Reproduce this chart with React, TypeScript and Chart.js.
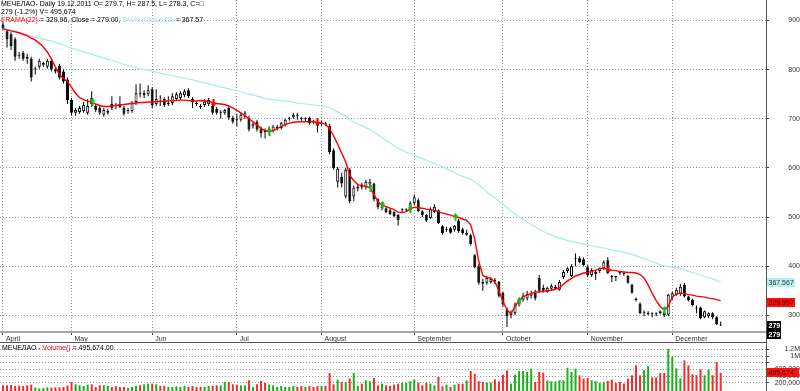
import React, { useEffect, useRef } from 'react';
import { Chart, registerables } from 'chart.js';

Chart.register(...registerables);

// ---------- data (one entry per trading day, 7 Apr 2011 .. 19 Dec 2011) ----------
const OPEN = [
  892, 878, 872, 862, 830, 834, 826, 822, 800, 806, 810, 806, 818, 800, 808, 796, 780,
  738, 712, 714, 716, 712, 742, 726, 722, 708, 712, 730, 726, 730, 722, 716, 716, 734, 752, 748, 750,
  760, 730, 736, 740, 730, 732, 740, 742, 748, 758, 740, 730, 726, 728, 730, 726, 720, 712, 712, 722, 702,
  698, 698, 704, 702, 684, 694, 680, 674, 672, 675, 681, 681, 688, 700, 703, 706, 700, 699, 702, 694, 694,
  690, 690, 686, 636, 572, 582, 542, 596, 542, 558, 566, 560, 566, 568, 536, 518, 518, 514, 510, 504, 514, 514, 514,
  528, 534, 512, 504, 498, 510, 514, 481, 474, 477, 474, 493, 475, 464, 463, 422, 400, 368, 366, 368, 372, 368,
  346, 312, 300, 304, 322, 332, 334, 340, 346, 376, 356, 348, 354, 354, 352, 378, 390, 380, 414, 416, 414,
  398, 382, 384, 390, 396, 412, 380, 378, 386, 386, 380, 362, 334, 324, 305, 302, 302, 302, 308, 306, 301,
  336, 342, 344, 362, 338, 332, 315, 316, 296, 298, 304, 296, 279.7,
];
const HIGH = [
  898, 882, 876, 866, 836, 838, 832, 826, 806, 822, 816, 822, 822, 804, 812, 800, 784,
  742, 722, 726, 734, 740, 756, 730, 726, 722, 720, 746, 732, 746, 726, 722, 736, 770, 772, 758, 768,
  764, 760, 748, 744, 746, 752, 754, 756, 760, 762, 744, 734, 730, 740, 742, 730, 724, 718, 720, 726, 706,
  710, 712, 716, 706, 694, 698, 684, 680, 684, 688, 688, 694, 700, 704, 712, 712, 704, 703, 704, 698, 698,
  696, 694, 690, 640, 602, 590, 600, 600, 564, 566, 570, 576, 578, 570, 538, 530, 520, 518, 512, 506, 518, 518, 532,
  546, 538, 514, 506, 520, 526, 516, 484, 480, 480, 484, 496, 478, 474, 466, 425, 404, 374, 380, 378, 376, 370,
  348, 316, 310, 326, 336, 346, 350, 350, 352, 382, 362, 358, 364, 362, 372, 392, 398, 404, 426, 420, 418,
  402, 396, 392, 398, 412, 418, 382, 380, 390, 388, 382, 364, 336, 326, 310, 308, 306, 306, 310, 308, 344,
  348, 356, 364, 366, 340, 334, 320, 318, 310, 306, 306, 298, 287.5,
];
const LOW = [
  880, 845, 840, 818, 822, 818, 812, 776, 790, 802, 806, 802, 796, 792, 780, 772, 730,
  706, 706, 710, 712, 708, 724, 714, 708, 704, 708, 718, 720, 722, 706, 710, 712, 728, 744, 742, 746,
  722, 726, 726, 724, 726, 728, 736, 738, 744, 742, 722, 726, 720, 724, 726, 708, 708, 700, 708, 698, 690,
  684, 694, 700, 674, 680, 674, 662, 660, 668, 672, 676, 678, 684, 696, 700, 698, 696, 695, 688, 690, 672,
  686, 686, 628, 596, 560, 560, 538, 528, 532, 552, 556, 556, 560, 532, 516, 514, 508, 504, 500, 482, 510, 510, 512,
  524, 510, 500, 490, 496, 508, 486, 464, 470, 466, 470, 468, 464, 462, 442, 396, 362, 350, 362, 364, 364, 336,
  318, 276, 294, 300, 318, 328, 330, 334, 330, 346, 346, 346, 350, 352, 350, 374, 386, 378, 400, 406, 400,
  378, 378, 372, 386, 392, 384, 368, 370, 382, 380, 364, 344, 328, 302, 298, 300, 296, 298, 302, 296, 298,
  332, 340, 340, 336, 328, 318, 304, 292, 294, 294, 292, 280, 278.3,
];
const CLOSE = [
  884, 862, 848, 826, 828, 822, 822, 784, 801, 818, 814, 818, 800, 796, 784, 776, 738,
  712, 718, 722, 728, 726, 730, 718, 712, 718, 716, 722, 726, 724, 710, 718, 732, 752, 750, 752, 758,
  728, 740, 734, 728, 732, 746, 750, 752, 756, 746, 734, 730, 724, 735, 738, 712, 712, 713, 718, 702, 694,
  697, 708, 711, 678, 690, 678, 671, 673, 680, 684, 682, 691, 698, 701, 708, 705, 700, 700, 691, 694, 686,
  692, 690, 632, 600, 598, 568, 596, 532, 560, 562, 560, 572, 572, 536, 520, 524, 510, 506, 502, 494, 515, 516, 528,
  540, 512, 504, 493, 516, 521, 488, 467, 476, 468, 482, 471, 467, 468, 445, 398, 366, 364, 376, 374, 370, 340,
  322, 298, 304, 322, 332, 340, 344, 346, 334, 350, 350, 356, 360, 358, 368, 388, 396, 400, 416, 408, 402,
  382, 392, 388, 396, 408, 386, 378, 378, 386, 384, 366, 346, 331, 304, 306, 305, 302, 302, 304, 300, 342,
  345, 352, 358, 338, 331, 321, 314, 294, 308, 304, 296, 282, 279,
];
const VOLUME = [
  120000, 120000, 130000, 100000, 110000, 100000, 120000, 140000, 50000, 30000, 40000, 60000, 50000, 60000, 60000, 70000, 110000,
  220000, 150000, 120000, 100000, 140000, 150000, 70000, 120000, 120000, 100000, 70000, 90000, 70000, 70000, 40000, 70000, 100000, 120000, 150000, 170000,
  170000, 150000, 100000, 100000, 70000, 70000, 90000, 70000, 100000, 70000, 100000, 70000, 70000, 70000, 100000, 100000, 120000, 120000, 220000, 220000, 150000,
  140000, 120000, 120000, 270000, 70000, 150000, 250000, 190000, 140000, 120000, 70000, 100000, 70000, 70000, 100000, 70000, 100000, 70000, 100000, 70000, 100000,
  100000, 100000, 490000, 150000, 290000, 220000, 220000, 320000, 490000, 100000, 170000, 270000, 240000, 340000, 120000, 170000, 120000, 100000, 140000, 170000, 200000, 200000, 240000,
  300000, 200000, 120000, 200000, 170000, 120000, 370000, 90000, 140000, 70000, 140000, 170000, 170000, 270000, 550000, 470000, 240000, 220000, 200000, 200000, 300000, 240000,
  440000, 570000, 170000, 440000, 550000, 550000, 520000, 620000, 220000, 520000, 500000, 270000, 240000, 240000, 270000, 270000, 650000, 520000, 620000, 420000, 320000,
  340000, 270000, 240000, 190000, 220000, 250000, 290000, 190000, 220000, 170000, 320000, 420000, 720000, 420000, 570000, 700000, 360000, 360000, 490000, 490000, 1220000,
  970000, 630000, 330000, 870000, 720000, 450000, 420000, 600000, 420000, 600000, 420000, 820000, 495674,
];
const FRAMA = [
  883, 881, 879, 877, 875, 872, 869, 864, 860, 854, 846, 836, 822, 805, 790, 782, 776,
  764, 752, 743, 739, 736, 734, 730, 727, 725, 725, 726, 727, 728, 729, 730, 731, 732, 733, 733, 734,
  734, 735, 735, 736, 736, 737, 737, 738, 738, 737, 736, 736, 737, 736, 735, 733, 731, 730, 729, 726, 722,
  717, 712, 706, 700, 694, 687, 680, 676, 674, 676, 680, 684, 688, 691, 693, 694, 694, 694, 694, 694, 693,
  691, 689, 680, 665, 648, 630, 612, 585, 574, 566, 564, 563, 560, 546, 531, 524, 521, 518, 515, 510, 509, 511, 516,
  520, 519, 518, 516, 515, 513, 511, 508, 506, 504, 501, 499, 496, 493, 484, 455, 410, 381, 377, 375, 368, 350,
  328, 311, 303, 318, 330, 338, 341, 344, 347, 348, 349, 350, 351, 353, 356, 363, 370, 375, 380, 383, 386,
  387, 389, 392, 395, 396, 394, 392, 391, 389, 388, 387, 387, 386, 383, 376, 362, 345, 330, 318, 311, 318,
  338, 343, 345, 344, 342, 341, 339, 338, 337, 335, 334, 332, 329.957,
];
const EMA62 = [
  884, 882, 880, 878, 875, 873, 871, 869, 866, 864, 862, 860, 858, 856, 853, 850, 847,
  844, 841, 839, 836, 834, 831, 829, 826, 824, 821, 819, 816, 814, 811, 809, 806, 804, 802, 800, 799,
  797, 795, 793, 791, 789, 788, 786, 784, 783, 781, 779, 777, 775, 773, 771, 769, 767, 765, 763, 761, 759,
  757, 755, 753, 750, 748, 746, 744, 741, 740, 739, 738, 737, 736, 735, 734, 732, 731, 730, 729, 728, 727,
  726, 725, 722, 718, 714, 709, 705, 699, 694, 690, 686, 682, 678, 673, 667, 662, 656, 651, 645, 640, 636, 632, 629,
  626, 622, 619, 615, 612, 609, 606, 602, 598, 594, 590, 586, 583, 580, 577, 571, 565, 558, 551, 545, 539, 532,
  526, 519, 512, 506, 500, 495, 490, 485, 480, 475, 471, 467, 464, 460, 457, 455, 452, 450, 449, 447, 445,
  443, 442, 440, 438, 437, 435, 433, 431, 430, 428, 426, 424, 421, 418, 415, 412, 409, 406, 403, 401, 399,
  398, 397, 395, 393, 390, 387, 385, 382, 379, 377, 374, 371, 367.567,
];
const MONTH_START = [0, 17, 37, 58, 79, 102, 124, 145, 166];
const MONTH_LABELS = ['April', 'May', 'Jun', 'Jul', 'August', 'September', 'October', 'November', 'December'];
const BUY_SIGNALS = [22, 66, 91, 94, 101, 112, 128, 164];
const SELL_SIGNALS = [52, 78, 150];
const PRICE_TICKS = [300, 400, 500, 600, 700, 800, 900];
const VOLUME_TICKS = [200000, 400000, 600000, 800000, 1000000, 1200000];
const VOLUME_TICK_LABELS = ['200,000', '400,000', '600,000', '', '1M', '1.2M'];
const HEADER_1 = 'МЕЧЕЛАО- Daily 19.12.2011 O= 279.7, H= 287.5, L= 278.3, C=□';
const HEADER_2 = '279 (-1.2%) V= 495,674';

// ---------- layout / style constants ----------
const X_MIN = -0.744;
const X_MAX = 189.24;
const PRICE_MIN = 266;
const PRICE_MAX = 941.7;
const VOL_MIN = -51000;
const VOL_MAX = 1392500;
const FAMILY = '"Liberation Sans", Arial, sans-serif';
const FS = 7;
const AXIS_W = 34;
const GRID = '#9a9a9a';
const LABEL = '#333333';
const EMA_COLOR = '#a8eaea';
const FRAMA_COLOR = '#ff0000';
const UP_VOL = '#19b019';
const DOWN_VOL = '#f52a2a';

const last = CLOSE.length - 1;
const idx = CLOSE.map((_, i) => i);

function drawSegments(ctx: CanvasRenderingContext2D, x: number, y: number, segs: [string, string][]) {
  let cx = x;
  for (const [t, c] of segs) {
    ctx.fillStyle = c;
    ctx.fillText(t, cx, y);
    cx += ctx.measureText(t).width;
  }
}

function valueBox(ctx: CanvasRenderingContext2D, text: string, cy: number, x: number, w: number, bg: string, fg: string) {
  const top = Math.round(cy - 4.5);
  ctx.fillStyle = bg;
  ctx.fillRect(x, top, w, 9);
  ctx.fillStyle = fg;
  ctx.textAlign = 'left';
  ctx.textBaseline = 'middle';
  ctx.fillText(text, x + 1.5, top + 4.8);
}

const pricePlugin = {
  id: 'priceExtras',
  afterDatasetsDraw(chart: any) {
    const { ctx, scales } = chart;
    const x = scales.x;
    const y = scales.y;
    ctx.save();
    const arrow = (i: number, up: boolean, color: string) => {
      const px = Math.round(x.getPixelForValue(i));
      const py = Math.round(y.getPixelForValue(FRAMA[i]));
      ctx.fillStyle = color;
      ctx.beginPath();
      if (up) {
        const top = py - 4;
        ctx.moveTo(px + 0.5, top);
        ctx.lineTo(px + 3.5, top + 3.5);
        ctx.lineTo(px - 2.5, top + 3.5);
        ctx.closePath();
        ctx.fill();
        ctx.fillRect(px - 0.5, top + 3, 2, 5);
      } else {
        const bot = py + 4;
        ctx.moveTo(px + 0.5, bot);
        ctx.lineTo(px + 3.5, bot - 3.5);
        ctx.lineTo(px - 2.5, bot - 3.5);
        ctx.closePath();
        ctx.fill();
        ctx.fillRect(px - 0.5, bot - 8, 2, 5);
      }
    };
    BUY_SIGNALS.forEach((i) => arrow(i, true, '#12c212'));
    SELL_SIGNALS.forEach((i) => arrow(i, false, '#ff0000'));
    ctx.restore();
  },
  afterDraw(chart: any) {
    const { ctx, scales, chartArea } = chart;
    const y = scales.y;
    ctx.save();
    ctx.font = `${FS}px ${FAMILY}`;
    ctx.textAlign = 'left';
    ctx.textBaseline = 'middle';
    drawSegments(ctx, 1, 4, [[HEADER_1, '#000']]);
    drawSegments(ctx, 1, 12, [[HEADER_2, '#000']]);
    drawSegments(ctx, 1, 20.5, [
      ['FRAMA(22)', FRAMA_COLOR],
      [` = ${FRAMA[last].toFixed(2)}, Close = ${CLOSE[last].toFixed(2)}, `, '#000'],
      ['EMA1(Close,62)', EMA_COLOR],
      [` = ${EMA62[last].toFixed(2)}`, '#000'],
    ]);

    // separator lines of the date strip
    ctx.fillStyle = '#555';
    ctx.fillRect(0, 342, chartArea.right, 1);
    ctx.fillRect(chartArea.right, chartArea.bottom, 1, 343 - chartArea.bottom);

    // last-value labels on the price axis
    const xr = chartArea.right + 1;
    valueBox(ctx, EMA62[last].toFixed(3), y.getPixelForValue(EMA62[last]), xr, 28, '#b6f2f2', '#333');
    valueBox(ctx, FRAMA[last].toFixed(3), y.getPixelForValue(FRAMA[last]) + 1.5, xr, 28, '#ff1010', '#3a0000');
    ctx.font = `bold ${FS}px ${FAMILY}`;
    valueBox(ctx, String(CLOSE[last]), y.getPixelForValue(CLOSE[last]), xr, 14, '#000', '#fff');
    valueBox(ctx, String(CLOSE[last]), 334.5, xr, 14, '#000', '#fff');
    ctx.restore();
  },
};

const volumePlugin = {
  id: 'volumeExtras',
  afterDraw(chart: any) {
    const { ctx, scales, chartArea } = chart;
    const y = scales.y;
    ctx.save();
    ctx.font = `${FS}px ${FAMILY}`;
    ctx.textAlign = 'left';
    ctx.textBaseline = 'middle';
    drawSegments(ctx, 2, 5, [
      ['МЕЧЕЛАО - ', '#000'],
      ['Volume()', '#ff0000'],
      [` = ${VOLUME[last].toLocaleString('en-US')}.00`, '#000'],
    ]);
    valueBox(ctx, VOLUME[last].toLocaleString('en-US'), y.getPixelForValue(VOLUME[last]), chartArea.right + 1, 32, '#ff1010', '#3a0000');
    ctx.restore();
  },
};

const tickFont = { family: FAMILY, size: FS };

function priceConfig(): any {
  return {
    type: 'bar',
    data: {
      datasets: [
        {
          type: 'line',
          label: 'EMA1(Close,62)',
          data: idx.map((i) => ({ x: i, y: EMA62[i] })),
          borderColor: EMA_COLOR,
          borderWidth: 1.2,
          pointRadius: 0,
          tension: 0,
          order: 1,
        },
        {
          type: 'line',
          label: 'FRAMA(22)',
          data: idx.map((i) => ({ x: i, y: FRAMA[i] })),
          borderColor: FRAMA_COLOR,
          borderWidth: 1.4,
          pointRadius: 0,
          tension: 0,
          order: 0,
        },
        {
          type: 'bar',
          label: 'body',
          data: idx.map((i) => ({ x: i, y: [OPEN[i], CLOSE[i]] })),
          backgroundColor: idx.map((i) => (CLOSE[i] > OPEN[i] ? '#ffffff' : '#000000')),
          borderColor: '#000000',
          borderWidth: 1,
          borderSkipped: false,
          barThickness: 3,
          minBarLength: 1,
          grouped: false,
          inflateAmount: 0,
          order: 2,
        },
        {
          type: 'bar',
          label: 'wick',
          data: idx.map((i) => ({ x: i, y: [LOW[i], HIGH[i]] })),
          backgroundColor: '#000000',
          borderWidth: 0,
          barThickness: 1,
          grouped: false,
          inflateAmount: 0,
          order: 3,
        },
      ],
    },
    options: {
      responsive: false,
      animation: false,
      devicePixelRatio: 1,
      layout: { padding: 0 },
      plugins: { legend: { display: false }, tooltip: { enabled: false }, title: { display: false } },
      scales: {
        x: {
          type: 'linear',
          min: X_MIN,
          max: X_MAX,
          offset: false,
          position: 'bottom',
          afterBuildTicks: (s: any) => {
            s.ticks = MONTH_START.map((v) => ({ value: v }));
          },
          afterFit: (s: any) => {
            s.height = 11;
            s.paddingLeft = 0;
            s.paddingRight = 0;
          },
          ticks: {
            autoSkip: false,
            maxRotation: 0,
            minRotation: 0,
            align: 'start',
            labelOffset: 3,
            padding: 0,
            font: tickFont,
            color: LABEL,
            callback: (_v: any, i: number) => MONTH_LABELS[i],
          },
          grid: { color: GRID, lineWidth: 1, offset: false, drawTicks: true, tickLength: 3, tickColor: '#444', tickBorderDash: [], tickWidth: 1 },
          border: { display: true, color: '#a6a6a6', width: 2, dash: [1, 2] },
        },
        y: {
          type: 'linear',
          position: 'right',
          min: PRICE_MIN,
          max: PRICE_MAX,
          afterBuildTicks: (s: any) => {
            s.ticks = PRICE_TICKS.map((v) => ({ value: v }));
          },
          afterFit: (s: any) => {
            s.width = AXIS_W;
            s.paddingTop = 0;
            s.paddingBottom = 0;
          },
          ticks: { autoSkip: false, padding: 17, crossAlign: 'far', font: tickFont, color: LABEL, callback: (v: any) => String(v) },
          grid: { color: GRID, lineWidth: 1, drawTicks: true, tickLength: 3, tickColor: '#444', tickBorderDash: [], tickWidth: 1 },
          border: { display: true, color: '#555', width: 1, dash: [1, 2] },
        },
      },
    },
    plugins: [pricePlugin],
  };
}

function volumeConfig(): any {
  return {
    type: 'bar',
    data: {
      datasets: [
        {
          label: 'Volume()',
          data: idx.map((i) => ({ x: i, y: VOLUME[i] })),
          backgroundColor: idx.map((i) => (CLOSE[i] > OPEN[i] ? UP_VOL : DOWN_VOL)),
          borderWidth: 0,
          barThickness: 2,
          base: VOL_MIN,
          grouped: false,
          inflateAmount: 0,
        },
      ],
    },
    options: {
      responsive: false,
      animation: false,
      devicePixelRatio: 1,
      layout: { padding: 0 },
      plugins: { legend: { display: false }, tooltip: { enabled: false } },
      scales: {
        x: { type: 'linear', min: X_MIN, max: X_MAX, offset: false, display: false },
        y: {
          type: 'linear',
          position: 'right',
          min: VOL_MIN,
          max: VOL_MAX,
          afterBuildTicks: (s: any) => {
            s.ticks = VOLUME_TICKS.map((v) => ({ value: v }));
          },
          afterFit: (s: any) => {
            s.width = AXIS_W;
            s.paddingTop = 0;
            s.paddingBottom = 0;
          },
          ticks: { autoSkip: false, padding: 4, crossAlign: 'far', font: tickFont, color: LABEL, callback: (_v: any, i: number) => VOLUME_TICK_LABELS[i] },
          grid: { color: GRID, lineWidth: 1, drawTicks: true, tickLength: 3, tickColor: '#444', tickBorderDash: [], tickWidth: 1 },
          border: { display: true, color: '#555', width: 1, dash: [1, 2] },
        },
      },
    },
    plugins: [volumePlugin],
  };
}

export default function App() {
  const priceRef = useRef<HTMLCanvasElement>(null);
  const volRef = useRef<HTMLCanvasElement>(null);
  useEffect(() => {
    const pc = new Chart(priceRef.current as HTMLCanvasElement, priceConfig());
    const vc = new Chart(volRef.current as HTMLCanvasElement, volumeConfig());
    return () => {
      pc.destroy();
      vc.destroy();
    };
  }, []);
  return (
    <div style={{ position: 'absolute', left: 0, top: 0, width: 800, height: 391, background: '#fff', overflow: 'hidden' }}>
      <canvas ref={priceRef} width={800} height={343} style={{ position: 'absolute', left: 0, top: 0, width: 800, height: 343 }} />
      <canvas ref={volRef} width={800} height={48} style={{ position: 'absolute', left: 0, top: 343, width: 800, height: 48 }} />
    </div>
  );
}
